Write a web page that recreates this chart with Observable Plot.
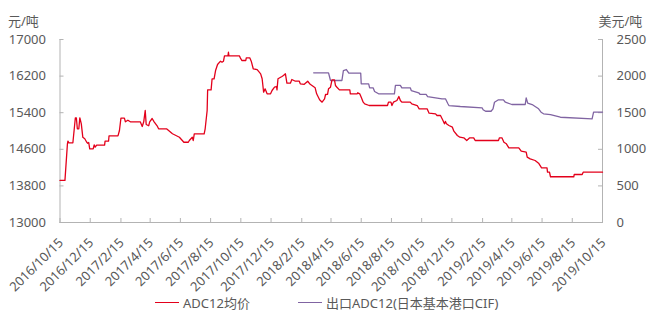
<!DOCTYPE html>
<html>
<head>
<meta charset="utf-8">
<script src="https://cdn.jsdelivr.net/npm/d3@7"></script>
<script src="https://cdn.jsdelivr.net/npm/@observablehq/plot@0.6"></script>
<style>
  html, body { margin: 0; padding: 0; background: #fff; }
  #wrap { position: relative; width: 660px; height: 328px; font-family: "Noto Sans", "Noto Sans CJK SC", sans-serif; color: #595959; }
  #legend { position: absolute; left: 0; top: 293px; width: 660px; height: 18px; font-size: 13px; }
  .item { position: absolute; top: 0; display: flex; align-items: center; height: 18px; white-space: nowrap; }
  .swatch { width: 24px; height: 0; border-top: 1.3px solid; margin-right: 4px; }
</style>
</head>
<body>
<div id="wrap"><div id="chart"></div><div id="legend"></div></div>
<script>
// ---- data ----
const redDates = ["2016-10-15","2016-10-25","2016-10-30","2016-10-31","2016-11-02","2016-11-10","2016-11-15","2016-11-17","2016-11-19","2016-11-22","2016-11-24","2016-11-27","2016-11-30","2016-12-04","2016-12-08","2016-12-10","2016-12-12","2016-12-14","2016-12-21","2016-12-23","2016-12-25","2016-12-28","2017-01-13","2017-01-14","2017-01-21","2017-01-22","2017-02-09","2017-02-12","2017-02-15","2017-02-22","2017-02-24","2017-03-01","2017-03-06","2017-03-26","2017-03-30","2017-04-02","2017-04-05","2017-04-07","2017-04-12","2017-04-14","2017-04-19","2017-04-23","2017-04-29","2017-05-02","2017-05-18","2017-05-30","2017-06-13","2017-06-22","2017-07-01","2017-07-03","2017-07-09","2017-07-11","2017-07-13","2017-08-02","2017-08-04","2017-08-08","2017-08-09","2017-08-16","2017-08-18","2017-08-22","2017-08-25","2017-08-29","2017-09-04","2017-09-07","2017-09-10","2017-09-12","2017-09-19","2017-09-20","2017-09-21","2017-10-12","2017-10-14","2017-10-17","2017-10-25","2017-10-26","2017-11-02","2017-11-05","2017-11-09","2017-11-17","2017-11-24","2017-11-27","2017-11-30","2017-12-03","2017-12-07","2017-12-14","2017-12-17","2017-12-22","2017-12-26","2017-12-27","2017-12-29","2018-01-06","2018-01-09","2018-01-13","2018-01-16","2018-01-23","2018-01-26","2018-02-02","2018-02-10","2018-02-12","2018-02-20","2018-02-27","2018-03-04","2018-03-14","2018-03-17","2018-03-23","2018-03-28","2018-04-02","2018-04-04","2018-04-08","2018-04-10","2018-04-14","2018-04-17","2018-04-22","2018-04-24","2018-04-27","2018-05-02","2018-05-23","2018-05-24","2018-06-07","2018-06-08","2018-06-12","2018-06-15","2018-06-19","2018-06-22","2018-07-01","2018-08-07","2018-08-09","2018-08-14","2018-08-16","2018-08-19","2018-08-26","2018-08-30","2018-09-02","2018-09-05","2018-09-22","2018-09-25","2018-10-06","2018-10-10","2018-10-26","2018-10-30","2018-11-12","2018-11-15","2018-11-22","2018-11-27","2018-11-30","2018-12-02","2018-12-04","2018-12-09","2018-12-16","2018-12-19","2018-12-26","2018-12-31","2019-01-08","2019-01-14","2019-01-20","2019-01-28","2019-01-31","2019-03-19","2019-03-21","2019-03-26","2019-03-30","2019-04-04","2019-04-09","2019-04-29","2019-05-04","2019-05-14","2019-05-16","2019-05-22","2019-06-01","2019-06-08","2019-06-14","2019-06-25","2019-06-26","2019-06-30","2019-07-02","2019-08-18","2019-08-19","2019-09-04","2019-09-06","2019-10-15"];
const redValues = [13920,13920,14720,14777,14740,14742,15289,15289,15048,15048,15289,15157,14865,14830,14755,14733,14748,14610,14610,14698,14646,14690,14690,14777,14777,14895,14895,15011,15280,15280,15201,15236,15201,15201,15098,15201,15448,15142,15114,15201,15273,15201,15114,15048,15048,14939,14864,14754,14754,14792,14864,14792,14939,14939,15048,15448,15900,15900,16141,16141,16322,16453,16526,16504,16526,16643,16643,16722,16643,16643,16599,16541,16541,16599,16599,16526,16360,16340,16250,16141,15848,15922,15813,15813,15885,15957,15973,15900,16141,16191,16213,16250,16045,16045,16126,16088,16088,16031,16020,16088,16020,15944,15813,15682,15630,15700,15798,15800,15922,15957,16119,16119,15995,15957,15900,15900,15813,15813,15835,15813,15740,15630,15594,15557,15557,15630,15630,15557,15630,15667,15754,15667,15630,15630,15594,15557,15485,15485,15390,15375,15339,15339,15230,15157,15210,15157,15120,15083,14996,14902,14865,14851,14792,14851,14851,14792,14792,14851,14851,14755,14720,14633,14633,14559,14537,14428,14392,14355,14296,14195,14195,14100,14100,14000,14000,14049,14049,14100,14100];

const cifDates = ["2018-03-11","2018-04-10","2018-04-14","2018-05-07","2018-05-10","2018-05-16","2018-05-21","2018-06-14","2018-06-15","2018-06-30","2018-07-02","2018-07-09","2018-07-12","2018-07-20","2018-08-21","2018-08-23","2018-09-02","2018-09-05","2018-09-22","2018-09-24","2018-10-09","2018-10-12","2018-10-24","2018-10-27","2018-11-12","2018-11-25","2018-12-02","2018-12-07","2018-12-09","2019-01-01","2019-02-14","2019-02-16","2019-02-21","2019-03-04","2019-03-08","2019-03-11","2019-03-19","2019-03-29","2019-04-02","2019-04-15","2019-05-12","2019-05-14","2019-05-17","2019-05-26","2019-06-01","2019-06-08","2019-06-13","2019-06-18","2019-07-02","2019-07-22","2019-09-24","2019-09-27","2019-10-15"];
const cifValues = [2045,2045,1940,1940,2076,2090,2040,2040,1895,1895,1840,1840,1790,1758,1758,1872,1872,1840,1840,1803,1772,1749,1749,1721,1703,1690,1690,1622,1598,1585,1567,1540,1520,1520,1553,1643,1676,1676,1643,1612,1612,1703,1630,1612,1585,1553,1507,1485,1475,1438,1417,1507,1507];

const xTickLabels = ["2016/10/15","2016/12/15","2017/2/15","2017/4/15","2017/6/15","2017/8/15","2017/10/15","2017/12/15","2018/2/15","2018/4/15","2018/6/15","2018/8/15","2018/10/15","2018/12/15","2019/2/15","2019/4/15","2019/6/15","2019/8/15","2019/10/15"];
const leftTicks = [13000, 13800, 14600, 15400, 16200, 17000];
const rightTicks = [0, 500, 1000, 1500, 2000, 2500];
const seriesNames = ["ADC12均价", "出口ADC12(日本基本港口CIF)"];
const seriesColors = ["#e3001b", "#8064a2"];
const unitLeft = "元/吨";
const unitRight = "美元/吨";

// ---- build ----
const parse = d3.utcParse("%Y-%m-%d");
const parseTick = d3.utcParse("%Y/%m/%d");
const xTicks = xTickLabels.map(parseTick);
const leftMin = 13000, leftMax = 17000, rightMax = 2500;
const toLeft = v => leftMin + v * (leftMax - leftMin) / rightMax;
const toRight = v => Math.round((v - leftMin) * rightMax / (leftMax - leftMin));

const red = redDates.map((d, i) => ({date: parse(d), v: redValues[i]}));
const cif = cifDates.map((d, i) => ({date: parse(d), v: toLeft(cifValues[i])}));

const W = 660, H = 290, mL = 59.5, mR = 58, mT = 39, mB = 68;
const plotW = W - mL - mR, plotH = H - mT - mB;
const axisColor = "#b3b3b3";

const chart = Plot.plot({
  width: W, height: H,
  marginLeft: mL, marginRight: mR, marginTop: mT, marginBottom: mB,
  style: {fontFamily: '"Noto Sans", "Noto Sans CJK SC", sans-serif', color: "#595959", background: "#fff", overflow: "visible"},
  x: {type: "utc", domain: [xTicks[0], xTicks[xTicks.length - 1]], axis: null},
  y: {domain: [leftMin, leftMax], axis: null},
  marks: [
    Plot.frame({anchor: "left", stroke: axisColor}),
    Plot.frame({anchor: "right", stroke: axisColor}),
    Plot.frame({anchor: "bottom", stroke: axisColor}),
    Plot.tickY(leftTicks, {y: d => d, stroke: axisColor, insetRight: plotW - 4}),
    Plot.tickY(rightTicks.map(toLeft), {y: d => d, stroke: axisColor, insetLeft: plotW - 4}),
    Plot.tickX(xTicks, {x: d => d, stroke: axisColor, insetTop: plotH - 4}),
    Plot.axisY({anchor: "left", ticks: leftTicks, tickSize: 0, tickPadding: 14, fontSize: 13, label: null, tickFormat: d => String(d)}),
    Plot.axisY({anchor: "right", ticks: rightTicks.map(toLeft), tickSize: 0, tickPadding: 14, fontSize: 13, label: null, tickFormat: d => String(toRight(d))}),
    Plot.text(xTicks, {x: d => d, text: (d, i) => xTickLabels[i], frameAnchor: "bottom", rotate: -45, textAnchor: "end", lineAnchor: "middle", dy: 18, dx: 1, fontSize: 13, fill: "#595959"}),
    Plot.text([unitLeft], {frameAnchor: "top-left", text: d => d, textAnchor: "start", lineAnchor: "middle", dx: -52, dy: -18, fontSize: 13, fill: "#595959"}),
    Plot.text([unitRight], {frameAnchor: "top-right", text: d => d, textAnchor: "start", lineAnchor: "middle", dx: -4, dy: -18, fontSize: 13, fill: "#595959"}),
    Plot.line(cif, {x: "date", y: "v", stroke: seriesColors[1], strokeWidth: 1.3}),
    Plot.line(red, {x: "date", y: "v", stroke: seriesColors[0], strokeWidth: 1.3})
  ]
});
document.getElementById("chart").appendChild(chart);

const legend = document.getElementById("legend");
const lefts = [155, 298];
seriesNames.forEach((name, i) => {
  const it = document.createElement("div");
  it.className = "item";
  it.style.left = lefts[i] + "px";
  const sw = document.createElement("span");
  sw.className = "swatch";
  sw.style.borderTopColor = seriesColors[i];
  const tx = document.createElement("span");
  tx.textContent = name;
  it.appendChild(sw); it.appendChild(tx);
  legend.appendChild(it);
});
</script>
</body>
</html>
